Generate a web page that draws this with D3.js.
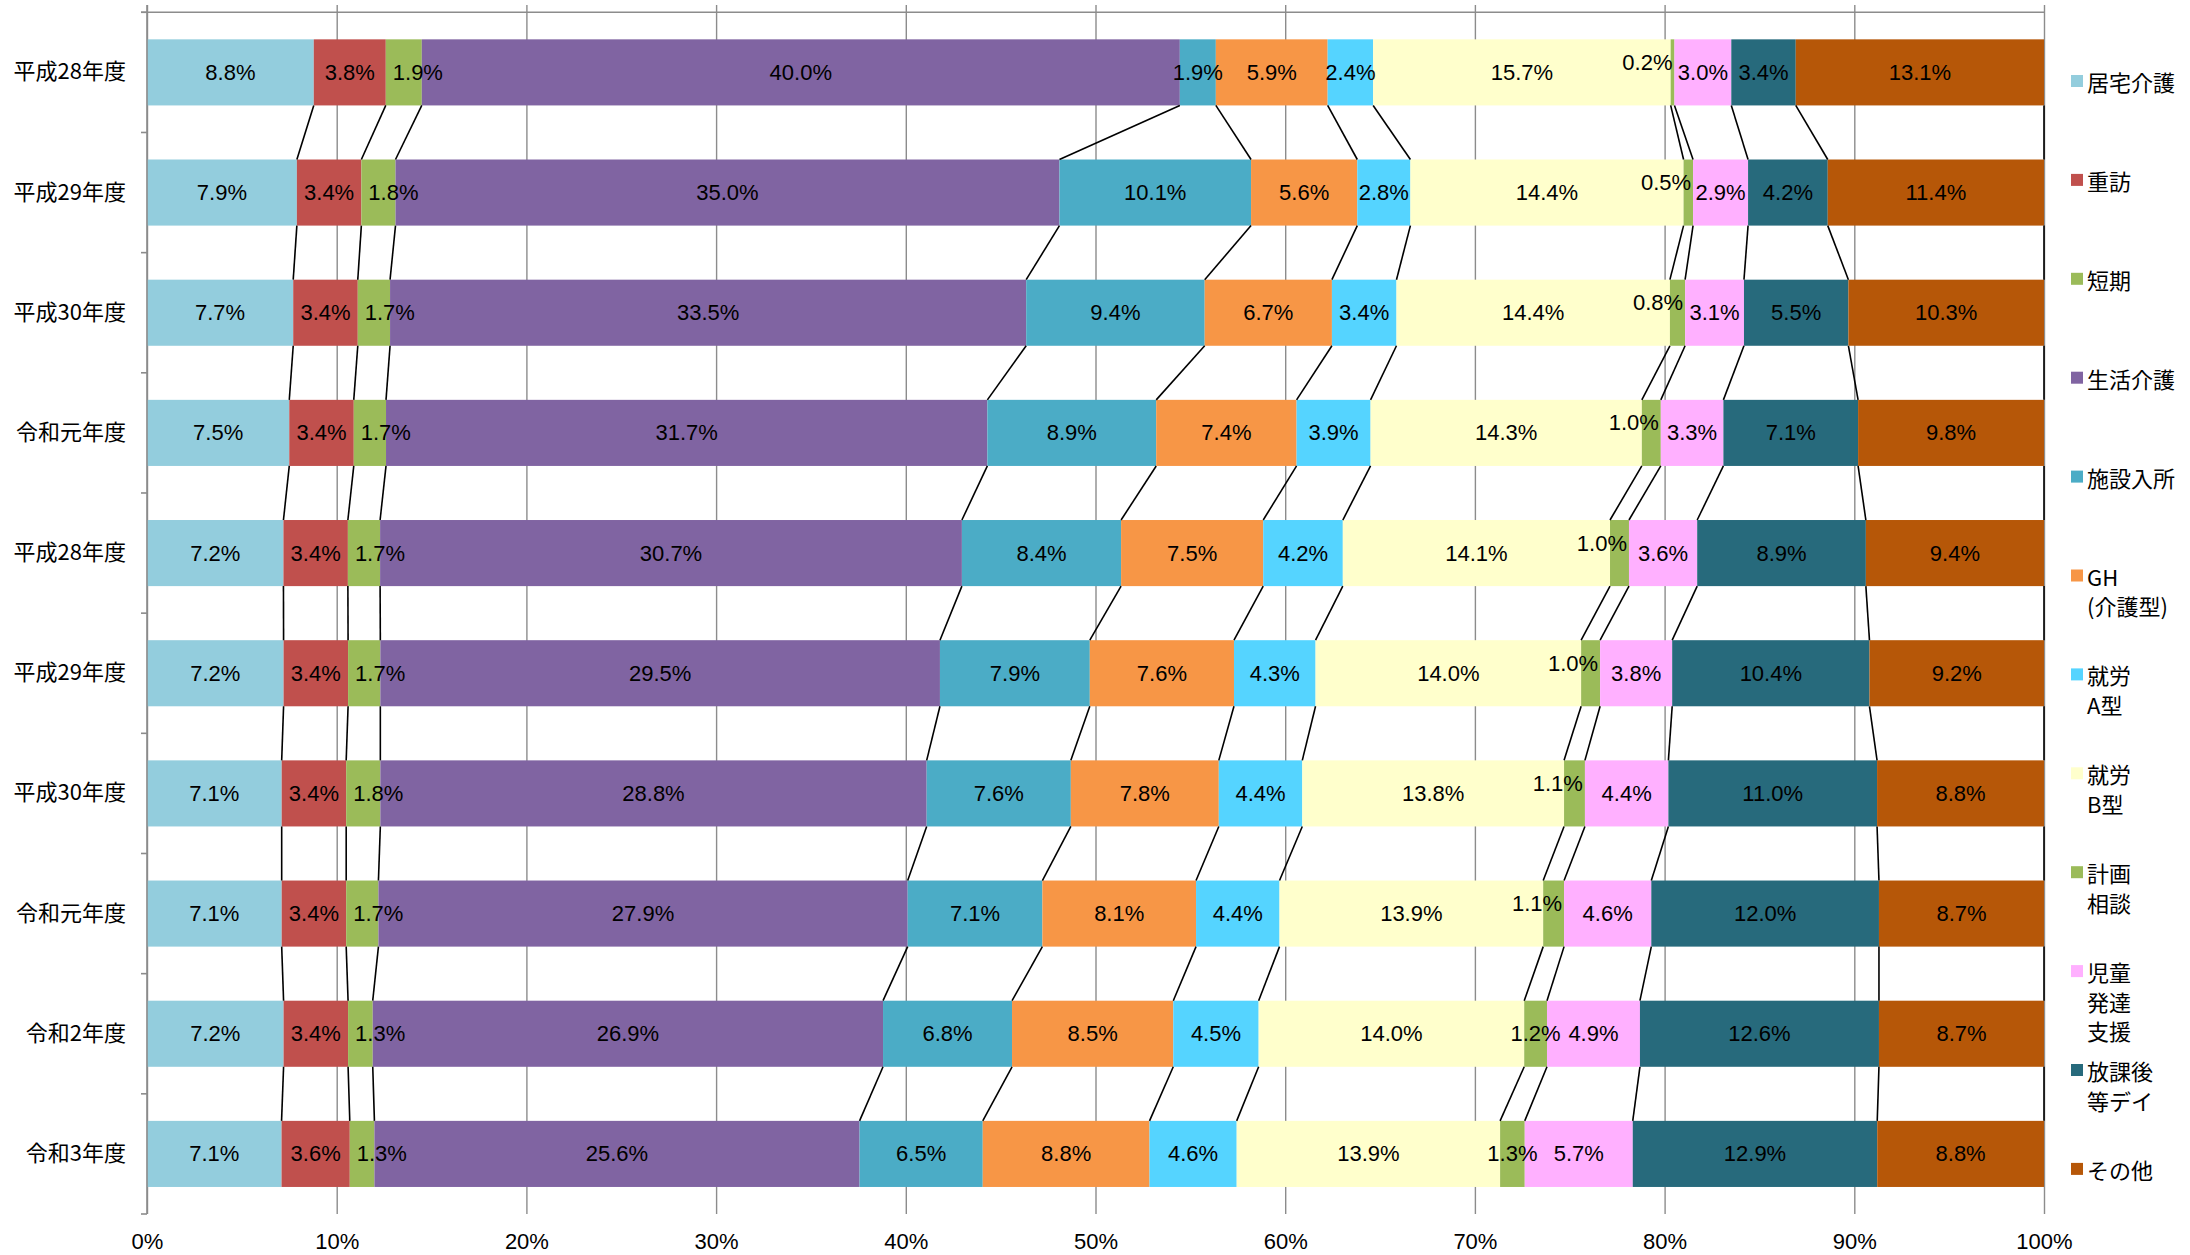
<!DOCTYPE html>
<html>
<head>
<meta charset="utf-8">
<script src="https://cdn.jsdelivr.net/npm/d3@7"></script>
<style>
  html, body { margin: 0; padding: 0; background: #fff; }
  svg text { font-family: "Liberation Sans", Arial, "Noto Sans CJK JP", sans-serif; fill: #000; }
  .cjk { font-family: "Noto Sans CJK JP", "Liberation Sans", sans-serif; }
</style>
</head>
<body>
<div id="chart"></div>
<script>
// categories (top to bottom)
const years = ["平成28年度", "平成29年度", "平成30年度", "令和元年度", "平成28年度",
  "平成29年度", "平成30年度", "令和元年度", "令和2年度", "令和3年度"];

// series names (legend, multi-line as shown)
const seriesNames = ["居宅介護", "重訪", "短期", "生活介護", "施設入所", "GH\n(介護型)",
  "就労\nA型", "就労\nB型", "計画\n相談", "児童\n発達\n支援", "放課後\n等デイ", "その他"];

// shares in %, one array per series, in year order
const kyotaku  = [8.8, 7.9, 7.7, 7.5, 7.2, 7.2, 7.1, 7.1, 7.2, 7.1];
const juho     = [3.8, 3.4, 3.4, 3.4, 3.4, 3.4, 3.4, 3.4, 3.4, 3.6];
const tanki    = [1.9, 1.8, 1.7, 1.7, 1.7, 1.7, 1.8, 1.7, 1.3, 1.3];
const seikatsu = [40.0, 35.0, 33.5, 31.7, 30.7, 29.5, 28.8, 27.9, 26.9, 25.6];
const shisetsu = [1.9, 10.1, 9.4, 8.9, 8.4, 7.9, 7.6, 7.1, 6.8, 6.5];
const gh       = [5.9, 5.6, 6.7, 7.4, 7.5, 7.6, 7.8, 8.1, 8.5, 8.8];
const shuroA   = [2.4, 2.8, 3.4, 3.9, 4.2, 4.3, 4.4, 4.4, 4.5, 4.6];
const shuroB   = [15.7, 14.4, 14.4, 14.3, 14.1, 14.0, 13.8, 13.9, 14.0, 13.9];
const keikaku  = [0.2, 0.5, 0.8, 1.0, 1.0, 1.0, 1.1, 1.1, 1.2, 1.3];
const jido     = [3.0, 2.9, 3.1, 3.3, 3.6, 3.8, 4.4, 4.6, 4.9, 5.7];
const hokago   = [3.4, 4.2, 5.5, 7.1, 8.9, 10.4, 11.0, 12.0, 12.6, 12.9];
const sonota   = [13.1, 11.4, 10.3, 9.8, 9.4, 9.2, 8.8, 8.7, 8.7, 8.8];

const xTicks = [0, 0.1, 0.2, 0.3, 0.4, 0.5, 0.6, 0.7, 0.8, 0.9, 1];

const seriesValues = [kyotaku, juho, tanki, seikatsu, shisetsu, gh,
  shuroA, shuroB, keikaku, jido, hokago, sonota];

const colors = ["#93cddd", "#c0504d", "#9bbb59", "#8064a2", "#4bacc6", "#f79646",
  "#55d4ff", "#ffffcc", "#9bbb59", "#ffb0ff", "#276a7c", "#b65708"];

const W = 2190, H = 1255;
const margin = { top: 12.3, left: 147, right: 146, bottom: 41 };
const plotBottom = H - margin.bottom; // 1214

const svg = d3.select("#chart").append("svg")
  .attr("width", W)
  .attr("height", H);

// rows for d3.stack
const keys = d3.range(seriesValues.length);
const rows = years.map((y, i) => {
  const r = { idx: i };
  keys.forEach(k => { r[k] = seriesValues[k][i]; });
  return r;
});

const stacked = d3.stack()
  .keys(keys)
  .offset(d3.stackOffsetExpand)(rows);

const x = d3.scaleLinear()
  .domain([0, 1])
  .range([margin.left, W - margin.right]);

const y = d3.scaleBand()
  .domain(d3.range(years.length))
  .range([margin.top, plotBottom])
  .paddingInner(0.45)
  .paddingOuter(0.225);

const bw = y.bandwidth();

// vertical gridlines (with short outward ticks at the top)
const grid = svg.append("g")
  .attr("transform", `translate(0, 5)`)
  .call(d3.axisTop(x).tickValues(xTicks).tickSize(-(plotBottom - 5)).tickFormat(""));
grid.select(".domain").remove();
grid.selectAll("line").attr("stroke", "#8c8c8c").attr("stroke-width", 1.4);

// top horizontal axis line
svg.append("line")
  .attr("x1", margin.left - 6).attr("x2", x(1))
  .attr("y1", margin.top).attr("y2", margin.top)
  .attr("stroke", "#8c8c8c").attr("stroke-width", 1.4);

// bars
const layer = svg.append("g").selectAll("g")
  .data(stacked)
  .join("g")
  .attr("fill", d => colors[d.key]);

layer.selectAll("rect")
  .data(d => d)
  .join("rect")
  .attr("x", d => x(d[0]))
  .attr("y", d => y(d.data.idx))
  .attr("width", d => x(d[1]) - x(d[0]))
  .attr("height", bw);

// series lines between consecutive bars
const links = [];
stacked.forEach(s => {
  for (let i = 0; i < s.length - 1; i++) {
    links.push({ x0: s[i][1], i0: i, x1: s[i + 1][1], i1: i + 1 });
  }
});
svg.append("g").selectAll("line")
  .data(links)
  .join("line")
  .attr("x1", d => x(d.x0))
  .attr("y1", d => y(d.i0) + bw)
  .attr("x2", d => x(d.x1))
  .attr("y2", d => y(d.i1))
  .attr("stroke", "#000")
  .attr("stroke-width", 1.6);

// data labels
const labelData = [];
stacked.forEach(s => {
  s.forEach((d, i) => {
    labelData.push({ k: s.key, i, a: d[0], b: d[1], v: seriesValues[s.key][i] });
  });
});

// small 計画相談 labels sit left of their sliver, a bit raised;
// 短期 labels start just inside the segment
const raised = d => d.k === 8 && d.v <= 1.1;
const anchor = d => raised(d) ? "end" : (d.k === 2 ? "start" : "middle");
const labelX = d => {
  if (raised(d)) return x(d.b) - 2;
  if (d.k === 2) return x(d.a) + 7;
  return x((d.a + d.b) / 2);
};

svg.append("g").selectAll("text")
  .data(labelData)
  .join("text")
  .attr("font-size", 22)
  .attr("dominant-baseline", "central")
  .attr("text-anchor", anchor)
  .attr("x", labelX)
  .attr("y", d => y(d.i) + bw / 2 + (raised(d) ? -10 : 0))
  .text(d => d.v.toFixed(1) + "%");

// y axis
const yAxis = svg.append("g")
  .attr("transform", `translate(${margin.left}, 0)`)
  .call(d3.axisLeft(y).tickSize(0).tickPadding(21).tickFormat(i => years[i]));
yAxis.select(".domain").remove();
yAxis.selectAll("text").attr("class", "cjk").attr("font-size", 22).attr("fill", "#000");

svg.append("line")
  .attr("x1", margin.left).attr("x2", margin.left)
  .attr("y1", 5).attr("y2", plotBottom)
  .attr("stroke", "#8c8c8c").attr("stroke-width", 1.6);

// category boundary ticks
const bounds = d3.range(years.length + 1).map(i => margin.top + i * y.step());
svg.append("g").selectAll("line")
  .data(bounds)
  .join("line")
  .attr("x1", margin.left - 6).attr("x2", margin.left)
  .attr("y1", d => d).attr("y2", d => d)
  .attr("stroke", "#8c8c8c").attr("stroke-width", 1.6);

// x axis labels
const xAxis = svg.append("g")
  .attr("transform", `translate(0, ${plotBottom})`)
  .call(d3.axisBottom(x).tickValues(xTicks).tickSize(0).tickPadding(19).tickFormat(d3.format(".0%")));
xAxis.select(".domain").remove();
xAxis.selectAll("text").attr("font-size", 22).attr("fill", "#000")
  .style("font-family", "'Liberation Sans', Arial, sans-serif");

// legend
const legendTop = 81, legendStep = 98.9, lineH = 29.5;
const legend = svg.append("g").selectAll("g")
  .data(seriesNames)
  .join("g")
  .attr("transform", (d, i) => `translate(2071, ${legendTop + i * legendStep})`);

legend.append("rect")
  .attr("x", 0).attr("y", -6)
  .attr("width", 12).attr("height", 12)
  .attr("fill", (d, i) => colors[i]);

legend.append("text")
  .attr("class", "cjk")
  .attr("font-size", 22)
  .attr("x", 16)
  .selectAll("tspan")
  .data(d => d.split("\n"))
  .join("tspan")
  .attr("x", 16)
  .attr("y", (d, j) => j * lineH)
  .attr("dominant-baseline", "central")
  .text(d => d);
</script>
</body>
</html>
